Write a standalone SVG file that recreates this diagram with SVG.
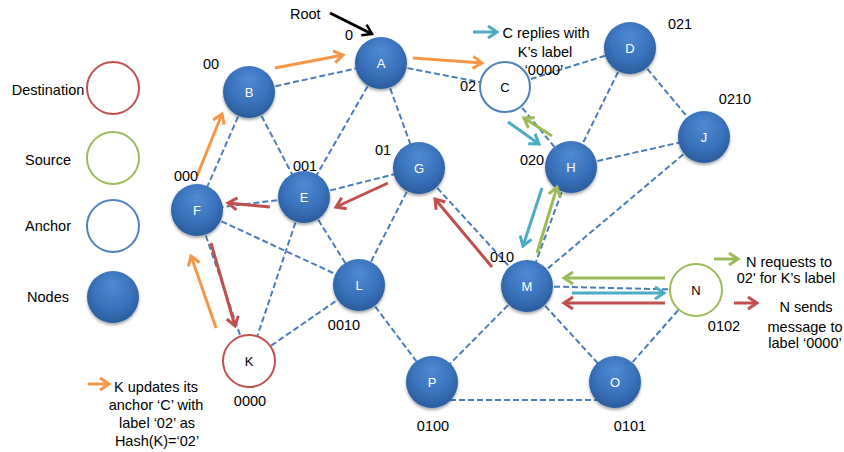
<svg xmlns="http://www.w3.org/2000/svg" width="844" height="452" viewBox="0 0 844 452">
  <style>
    text { font-family: "Liberation Sans", Arial, sans-serif; }
    .lbl { font-size: 14.5px; fill: #000; }
    .cap { font-size: 14.5px; fill: #000; text-anchor: middle; }
    .nl { font-size: 13px; fill: #fff; text-anchor: middle; }
    .nk { font-size: 13px; fill: #000; text-anchor: middle; }
    .edge { stroke: #4a7dbc; stroke-width: 2; stroke-dasharray: 6 3; fill: none; }
    .node { fill: url(#ball); filter: url(#shade); }
    .ring { fill: #fff; stroke-width: 2; }
    .arr { stroke-width: 3; fill: none; }
    .or { stroke: #f79646; marker-end: url(#hOr); }
    .rd { stroke: #c0504d; marker-end: url(#hRd); }
    .gr { stroke: #9bbb59; marker-end: url(#hGr); }
    .tl { stroke: #4bacc6; marker-end: url(#hTl); }
  </style>
  <defs>
    <radialGradient id="ball" cx="50%" cy="40%" r="60%" fx="50%" fy="25%">
      <stop offset="0" stop-color="#4f8ad2"/>
      <stop offset="0.6" stop-color="#3b74be"/>
      <stop offset="1" stop-color="#2a5c9c"/>
    </radialGradient>
    <filter id="shade" x="-30%" y="-30%" width="160%" height="170%">
      <feGaussianBlur in="SourceAlpha" stdDeviation="1.5"/>
      <feOffset dy="2" result="b"/>
      <feComponentTransfer><feFuncA type="linear" slope="0.35"/></feComponentTransfer>
      <feMerge><feMergeNode/><feMergeNode in="SourceGraphic"/></feMerge>
    </filter>
    <marker id="hOr" markerUnits="userSpaceOnUse" markerWidth="20" markerHeight="20" refX="10" refY="10" orient="auto" overflow="visible">
      <path d="M1,4 L10,10 L1,16" fill="none" stroke="#f79646" stroke-width="3"/>
    </marker>
    <marker id="hRd" markerUnits="userSpaceOnUse" markerWidth="20" markerHeight="20" refX="10" refY="10" orient="auto" overflow="visible">
      <path d="M1,4 L10,10 L1,16" fill="none" stroke="#c0504d" stroke-width="3"/>
    </marker>
    <marker id="hGr" markerUnits="userSpaceOnUse" markerWidth="20" markerHeight="20" refX="10" refY="10" orient="auto" overflow="visible">
      <path d="M1,4 L10,10 L1,16" fill="none" stroke="#9bbb59" stroke-width="3"/>
    </marker>
    <marker id="hTl" markerUnits="userSpaceOnUse" markerWidth="20" markerHeight="20" refX="10" refY="10" orient="auto" overflow="visible">
      <path d="M1,4 L10,10 L1,16" fill="none" stroke="#4bacc6" stroke-width="3"/>
    </marker>
    <marker id="hBk" markerUnits="userSpaceOnUse" markerWidth="20" markerHeight="20" refX="10" refY="10" orient="auto" overflow="visible">
      <path d="M1,4 L10,10 L1,16" fill="none" stroke="#000" stroke-width="2.5"/>
    </marker>
  </defs>

  <rect width="844" height="452" fill="#fff"/>

  <!-- legend -->
  <g id="legend">
    <text class="cap" x="48" y="95">Destination</text>
    <circle class="ring" cx="113" cy="88" r="26" stroke="#c0504d"/>
    <text class="cap" x="48" y="165">Source</text>
    <circle class="ring" cx="113" cy="158" r="26" stroke="#9bbb59"/>
    <text class="cap" x="48" y="231">Anchor</text>
    <circle class="ring" cx="113" cy="226" r="26" stroke="#4f81bd"/>
    <text class="cap" x="48" y="302">Nodes</text>
    <circle class="node" cx="113" cy="297" r="26"/>
  </g>

  <!-- overlay links -->
  <g id="connectors">
    <line class="edge" x1="249" y1="92" x2="381" y2="63"/>
    <line class="edge" x1="381" y1="63" x2="505" y2="87"/>
    <line class="edge" x1="381" y1="63" x2="304" y2="197"/>
    <line class="edge" x1="381" y1="63" x2="419" y2="168"/>
    <line class="edge" x1="249" y1="92" x2="197" y2="210"/>
    <line class="edge" x1="249" y1="92" x2="304" y2="197"/>
    <line class="edge" x1="505" y1="87" x2="630" y2="48"/>
    <line class="edge" x1="505" y1="87" x2="571" y2="167"/>
    <line class="edge" x1="630" y1="48" x2="571" y2="167"/>
    <line class="edge" x1="630" y1="48" x2="704" y2="137"/>
    <line class="edge" x1="571" y1="167" x2="704" y2="137"/>
    <line class="edge" x1="704" y1="137" x2="527" y2="286"/>
    <line class="edge" x1="571" y1="167" x2="527" y2="286"/>
    <line class="edge" x1="304" y1="197" x2="197" y2="210"/>
    <line class="edge" x1="304" y1="197" x2="419" y2="168"/>
    <line class="edge" x1="304" y1="197" x2="359" y2="285"/>
    <line class="edge" x1="304" y1="197" x2="249" y2="361"/>
    <line class="edge" x1="197" y1="210" x2="249" y2="361"/>
    <line class="edge" x1="197" y1="210" x2="359" y2="285"/>
    <line class="edge" x1="419" y1="168" x2="359" y2="285"/>
    <line class="edge" x1="419" y1="168" x2="527" y2="286"/>
    <line class="edge" x1="249" y1="361" x2="359" y2="285"/>
    <line class="edge" x1="359" y1="285" x2="432" y2="382"/>
    <line class="edge" x1="527" y1="286" x2="432" y2="382"/>
    <line class="edge" x1="527" y1="286" x2="615" y2="382"/>
    <line class="edge" x1="527" y1="286" x2="696" y2="290"/>
    <line class="edge" x1="696" y1="290" x2="615" y2="382"/>
    <line class="edge" x1="432" y1="400" x2="615" y2="400"/>
  </g>

  <!-- nodes -->
  <g id="node-A"><circle class="node" cx="381" cy="63" r="26"/><text class="nl" x="381" y="68">A</text></g>
  <g id="node-B"><circle class="node" cx="249" cy="92" r="26"/><text class="nl" x="249" y="97">B</text></g>
  <g id="node-C"><circle class="ring" cx="505" cy="87" r="25" stroke="#4f81bd"/><text class="nk" x="505" y="92">C</text></g>
  <g id="node-D"><circle class="node" cx="630" cy="48" r="26"/><text class="nl" x="630" y="53">D</text></g>
  <g id="node-J"><circle class="node" cx="704" cy="137" r="26"/><text class="nl" x="704" y="142">J</text></g>
  <g id="node-H"><circle class="node" cx="571" cy="167" r="26"/><text class="nl" x="571" y="172">H</text></g>
  <g id="node-G"><circle class="node" cx="419" cy="168" r="26"/><text class="nl" x="419" y="173">G</text></g>
  <g id="node-E"><circle class="node" cx="304" cy="197" r="26"/><text class="nl" x="304" y="202">E</text></g>
  <g id="node-F"><circle class="node" cx="197" cy="210" r="26"/><text class="nl" x="197" y="215">F</text></g>
  <g id="node-L"><circle class="node" cx="359" cy="285" r="26"/><text class="nl" x="359" y="290">L</text></g>
  <g id="node-M"><circle class="node" cx="527" cy="286" r="26"/><text class="nl" x="527" y="291">M</text></g>
  <g id="node-N"><circle class="ring" cx="696" cy="290" r="26" stroke="#9bbb59"/><text class="nk" x="696" y="295">N</text></g>
  <g id="node-K"><circle class="ring" cx="249" cy="361" r="26" stroke="#c0504d"/><text class="nk" x="249" y="366">K</text></g>
  <g id="node-P"><circle class="node" cx="432" cy="382" r="26"/><text class="nl" x="432" y="387">P</text></g>
  <g id="node-O"><circle class="node" cx="615" cy="382" r="26"/><text class="nl" x="615" y="387">O</text></g>

  <!-- message arrows -->
  <g id="messages">
    <line class="arr or" x1="275" y1="68" x2="343" y2="55"/>
    <line class="arr or" x1="413" y1="58" x2="482" y2="63"/>
    <line class="arr or" x1="197" y1="176" x2="222" y2="114"/>
    <line class="arr or" x1="216" y1="328" x2="191" y2="256"/>
    <line class="arr rd" x1="270" y1="207" x2="228" y2="203"/>
    <line class="arr rd" x1="388" y1="183" x2="336" y2="207"/>
    <line class="arr rd" x1="492" y1="267" x2="435" y2="199"/>
    <line class="arr rd" x1="211" y1="243" x2="235" y2="326"/>
    <line class="arr rd" x1="665" y1="303" x2="564" y2="303"/>
    <line class="arr gr" x1="665" y1="278" x2="564" y2="278"/>
    <line class="arr gr" x1="537" y1="253" x2="557" y2="187"/>
    <line class="arr gr" x1="552" y1="136" x2="524" y2="118"/>
    <line class="arr tl" x1="572" y1="293" x2="664" y2="293"/>
    <line class="arr tl" x1="542" y1="188" x2="523" y2="246"/>
    <line class="arr tl" x1="508" y1="122" x2="539" y2="144"/>
    <line class="arr" stroke="#000" stroke-width="2.5" marker-end="url(#hBk)" x1="330" y1="13" x2="372" y2="34"/>
  </g>

  <!-- labels -->
  <g id="labels">
    <text class="lbl" x="290" y="19">Root</text>
    <text class="cap" x="349" y="40">0</text>
    <text class="cap" x="211" y="69">00</text>
    <text class="cap" x="305" y="171">001</text>
    <text class="cap" x="186" y="181">000</text>
    <text class="cap" x="383" y="155">01</text>
    <text class="cap" x="468" y="91">02</text>
    <text class="cap" x="532" y="165">020</text>
    <text class="cap" x="502" y="262">010</text>
    <text class="cap" x="680" y="29">021</text>
    <text class="cap" x="735" y="104">0210</text>
    <text class="cap" x="344" y="330">0010</text>
    <text class="cap" x="250" y="406">0000</text>
    <text class="cap" x="433" y="431">0100</text>
    <text class="cap" x="630" y="431">0101</text>
    <text class="cap" x="724" y="331">0102</text>
  </g>

  <!-- notes -->
  <g id="notes">
    <line class="arr tl" x1="473" y1="32" x2="497" y2="32"/>
    <text class="cap" x="546" y="38">C replies with</text>
    <text class="cap" x="545" y="57">K’s label</text>
    <text class="cap" x="544" y="75">‘0000’</text>

    <line class="arr gr" x1="714" y1="259" x2="738" y2="259"/>
    <text class="cap" x="789" y="267">N requests to</text>
    <text class="cap" x="786" y="283">02' for K’s label</text>

    <line class="arr rd" x1="734" y1="303" x2="757" y2="303"/>
    <text class="cap" x="806" y="312">N sends</text>
    <text class="cap" x="805" y="332">message to</text>
    <text class="cap" x="805" y="348">label ‘0000’</text>

    <line class="arr or" x1="88" y1="384" x2="109" y2="384"/>
    <text class="cap" x="156" y="392">K updates its</text>
    <text class="cap" x="156" y="410">anchor ‘C’ with</text>
    <text class="cap" x="157" y="428">label ‘02’ as</text>
    <text class="cap" x="157" y="446">Hash(K)=‘02’</text>
  </g>
</svg>
